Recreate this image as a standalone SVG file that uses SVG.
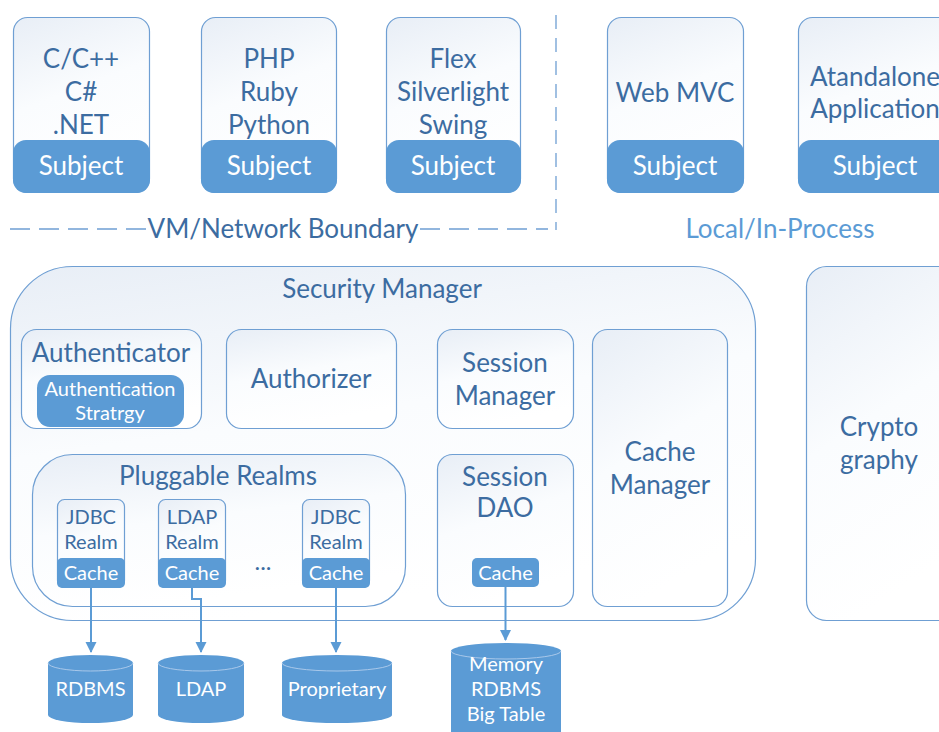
<svg xmlns="http://www.w3.org/2000/svg" width="939" height="732" viewBox="0 0 939 732">
<style>
.box{fill:url(#g);stroke:#6f9fd3;stroke-width:1.2}
.blue{fill:#5b9bd5}
.t{font-family:Lato,"Open Sans",sans-serif;font-size:26px;fill:#3c6ca1;text-anchor:middle}
.w{font-family:Lato,"Open Sans",sans-serif;font-size:26px;fill:#ffffff;text-anchor:middle}
.s{font-size:20px}
.lt{fill:#5b9bd5}
.dash{stroke:#6f9fd3;stroke-width:1.3;fill:none}
.conn{stroke:#5b9bd5;stroke-width:2;fill:none}
.rim{stroke:#a9c8ea;stroke-width:1;fill:none}
</style>
<defs>
<linearGradient id="g" x1="0" y1="0" x2="0.3" y2="1">
<stop offset="0" stop-color="#e8eef6"/>
<stop offset="0.5" stop-color="#fafcfe"/>
<stop offset="1" stop-color="#ffffff"/>
</linearGradient>
<marker id="arr" markerWidth="12" markerHeight="12" refX="10" refY="6" orient="auto" markerUnits="userSpaceOnUse">
<path d="M0,0.5 L11,6 L0,11.5 Z" fill="#5b9bd5"/>
</marker>
</defs>
<rect width="939" height="732" fill="#ffffff"/>

<g id="subject-c">
<rect class="box" x="13.5" y="17.5" width="136" height="175" rx="14"/>
<rect class="blue" x="13" y="140" width="137" height="53" rx="13"/>
<text class="t" x="81" y="68">C/C++</text>
<text class="t" x="81" y="101">C#</text>
<text class="t" x="81" y="134">.NET</text>
<text class="w" x="81" y="175">Subject</text>
</g>
<g id="subject-php">
<rect class="box" x="201.5" y="17.5" width="135" height="175" rx="14"/>
<rect class="blue" x="201" y="140" width="136" height="53" rx="13"/>
<text class="t" x="269" y="68">PHP</text>
<text class="t" x="269" y="101">Ruby</text>
<text class="t" x="269" y="134">Python</text>
<text class="w" x="269" y="175">Subject</text>
</g>
<g id="subject-flex">
<rect class="box" x="386.5" y="17.5" width="134" height="175" rx="14"/>
<rect class="blue" x="386" y="140" width="135" height="53" rx="13"/>
<text class="t" x="453" y="68">Flex</text>
<text class="t" x="453" y="101">Silverlight</text>
<text class="t" x="453" y="134">Swing</text>
<text class="w" x="453" y="175">Subject</text>
</g>
<g id="subject-web">
<rect class="box" x="607.5" y="17.5" width="136" height="175" rx="14"/>
<rect class="blue" x="607" y="140" width="137" height="53" rx="13"/>
<text class="t" x="675" y="102">Web MVC</text>
<text class="w" x="675" y="175">Subject</text>
</g>
<g id="subject-standalone">
<rect class="box" x="798.5" y="17.5" width="154" height="175" rx="14"/>
<rect class="blue" x="798" y="140" width="155" height="53" rx="13"/>
<text class="t" x="875" y="86">Atandalone</text>
<text class="t" x="875" y="118">Application</text>
<text class="w" x="875" y="175">Subject</text>
</g>

<g id="boundaries">
<line class="dash" x1="556" y1="15" x2="556" y2="230" stroke-dasharray="14 9"/>
<line class="dash" x1="10" y1="229" x2="146" y2="229" stroke-dasharray="20 9"/>
<line class="dash" x1="420" y1="229" x2="548" y2="229" stroke-dasharray="20 9"/>
<text class="t" x="283" y="238">VM/Network Boundary</text>
<text class="t lt" x="780" y="238">Local/In-Process</text>
</g>

<g id="security-manager">
<rect class="box" x="10.5" y="266.5" width="745" height="354" rx="62"/>
<text class="t" x="382" y="298">Security Manager</text>
</g>
<g id="authenticator">
<rect class="box" x="21.5" y="329.5" width="180" height="99" rx="15"/>
<text class="t" x="111" y="362">Authenticator</text>
<rect class="blue" x="37" y="375" width="147" height="52" rx="13"/>
<text class="w s" x="110" y="396">Authentication</text>
<text class="w s" x="110" y="420">Stratrgy</text>
</g>
<g id="authorizer">
<rect class="box" x="226.5" y="329.5" width="170" height="99" rx="15"/>
<text class="t" x="311" y="388">Authorizer</text>
</g>
<g id="session-manager">
<rect class="box" x="437.5" y="329.5" width="136" height="99" rx="15"/>
<text class="t" x="505" y="372">Session</text>
<text class="t" x="505" y="405">Manager</text>
</g>
<g id="session-dao">
<rect class="box" x="437.5" y="454.5" width="136" height="152" rx="15"/>
<text class="t" x="505" y="486">Session</text>
<text class="t" x="505" y="517">DAO</text>
<rect class="blue" x="472" y="558" width="67" height="29" rx="5"/>
<text class="w s" x="505.5" y="580">Cache</text>
</g>
<g id="cache-manager">
<rect class="box" x="592.5" y="329.5" width="135" height="277" rx="15"/>
<text class="t" x="660" y="461">Cache</text>
<text class="t" x="660" y="494">Manager</text>
</g>
<g id="cryptography">
<rect class="box" x="806.5" y="266.5" width="160" height="354" rx="20"/>
<text class="t" x="879" y="436">Crypto</text>
<text class="t" x="879" y="469">graphy</text>
</g>
<g id="pluggable-realms">
<rect class="box" x="32.5" y="454.5" width="373" height="152" rx="40"/>
<text class="t" x="218" y="485">Pluggable Realms</text>
<text class="t" x="263" y="570" style="font-size:24px">...</text>
</g>
<g id="jdbc-realm-1">
<rect class="box" x="57.5" y="499.5" width="67" height="88" rx="7"/>
<rect class="blue" x="57" y="558" width="68" height="30" rx="5"/>
<text class="t s" x="91" y="524">JDBC</text>
<text class="t s" x="91" y="549">Realm</text>
<text class="w s" x="91" y="580">Cache</text>
</g>
<g id="ldap-realm">
<rect class="box" x="158.5" y="499.5" width="67" height="88" rx="7"/>
<rect class="blue" x="158" y="558" width="68" height="30" rx="5"/>
<text class="t s" x="192" y="524">LDAP</text>
<text class="t s" x="192" y="549">Realm</text>
<text class="w s" x="192" y="580">Cache</text>
</g>
<g id="jdbc-realm-2">
<rect class="box" x="302.5" y="499.5" width="67" height="88" rx="7"/>
<rect class="blue" x="302" y="558" width="68" height="30" rx="5"/>
<text class="t s" x="336" y="524">JDBC</text>
<text class="t s" x="336" y="549">Realm</text>
<text class="w s" x="336" y="580">Cache</text>
</g>

<g id="connectors">
<path class="conn" d="M91 588 V652" marker-end="url(#arr)"/>
<path class="conn" d="M192 588 V599 H201 V652" marker-end="url(#arr)"/>
<path class="conn" d="M336 588 V652" marker-end="url(#arr)"/>
<path class="conn" d="M505.5 587 V640" marker-end="url(#arr)"/>
</g>

<g id="rdbms">
<path class="blue" d="M48 663 A42.5 8 0 0 1 133 663 V715 A42.5 8 0 0 1 48 715 Z"/>
<path class="rim" d="M48 663 A42.5 8 0 0 0 133 663"/>
<text class="w s" x="90.5" y="696">RDBMS</text>
</g>
<g id="ldap">
<path class="blue" d="M158 663 A43 8 0 0 1 244 663 V715 A43 8 0 0 1 158 715 Z"/>
<path class="rim" d="M158 663 A43 8 0 0 0 244 663"/>
<text class="w s" x="201" y="696">LDAP</text>
</g>
<g id="proprietary">
<path class="blue" d="M282 663 A55 8 0 0 1 392 663 V715 A55 8 0 0 1 282 715 Z"/>
<path class="rim" d="M282 663 A55 8 0 0 0 392 663"/>
<text class="w s" x="337" y="696">Proprietary</text>
</g>
<g id="memory">
<path class="blue" d="M451 651 A55 8 0 0 1 561 651 V740 A55 8 0 0 1 451 740 Z"/>
<path class="rim" d="M451 651 A55 8 0 0 0 561 651"/>
<text class="w s" x="506" y="671">Memory</text>
<text class="w s" x="506" y="696">RDBMS</text>
<text class="w s" x="506" y="721">Big Table</text>
</g>
</svg>
